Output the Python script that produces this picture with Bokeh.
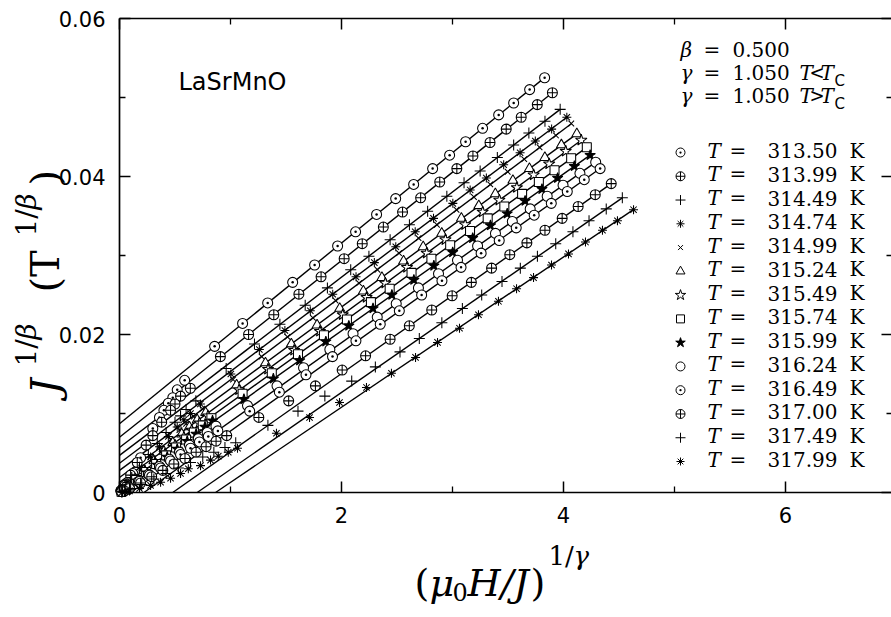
import math
from bokeh.plotting import figure
from bokeh.models import Range1d, FixedTicker, LinearAxis, Label
from bokeh.embed import file_html
from bokeh.resources import INLINE

# ---------------------------------------------------------------- data
temperatures = ["313.50", "313.99", "314.49", "314.74", "314.99", "315.24", "315.49",
                "315.74", "315.99", "316.24", "316.49", "317.00", "317.49", "317.99"]

x_313_50 = [3.830, 3.695, 3.551, 3.416, 3.271, 3.118, 2.974, 2.821, 2.650, 2.488, 2.316, 2.127, 1.965, 1.758, 1.560, 1.335, 1.109, 0.857, 0.587, 0.52, 0.48, 0.44, 0.40, 0.36, 0.30, 0.19, 0.12, 0.06, 0.03, 0.015]
y_313_50 = [0.0525, 0.0510, 0.0493, 0.0478, 0.0461, 0.0444, 0.0427, 0.0410, 0.0390, 0.0372, 0.0352, 0.0330, 0.0312, 0.0288, 0.0266, 0.0240, 0.0214, 0.0185, 0.0142, 0.0130, 0.0120, 0.0113, 0.0104, 0.0095, 0.0081, 0.0044, 0.0024, 0.0010, 0.0004, 0.0002]

x_313_99 = [3.900, 3.764, 3.619, 3.484, 3.338, 3.184, 3.039, 2.885, 2.713, 2.550, 2.377, 2.187, 2.024, 1.816, 1.616, 1.390, 1.163, 0.909, 0.638, 0.55, 0.50, 0.46, 0.38, 0.30, 0.24, 0.16, 0.10, 0.05, 0.025, 0.012]
y_313_99 = [0.0506, 0.0491, 0.0475, 0.0460, 0.0443, 0.0426, 0.0410, 0.0393, 0.0373, 0.0355, 0.0336, 0.0315, 0.0296, 0.0273, 0.0251, 0.0225, 0.0200, 0.0172, 0.0132, 0.0122, 0.0112, 0.0104, 0.0089, 0.0072, 0.0060, 0.0038, 0.0022, 0.0009, 0.0004, 0.0002]

x_314_49 = [3.970, 3.833, 3.688, 3.551, 3.404, 3.249, 3.104, 2.949, 2.776, 2.612, 2.438, 2.247, 2.083, 1.873, 1.673, 1.445, 1.216, 0.961, 0.688, 0.60, 0.55, 0.50, 0.42, 0.34, 0.26, 0.18, 0.11, 0.05, 0.025, 0.012]
y_314_49 = [0.0485, 0.0470, 0.0455, 0.0440, 0.0424, 0.0407, 0.0392, 0.0375, 0.0356, 0.0339, 0.0320, 0.0299, 0.0282, 0.0259, 0.0237, 0.0213, 0.0188, 0.0157, 0.0116, 0.0105, 0.0097, 0.0089, 0.0076, 0.0062, 0.0048, 0.0032, 0.0019, 0.0008, 0.0004, 0.0002]

x_314_74 = [4.030, 3.893, 3.746, 3.609, 3.461, 3.305, 3.159, 3.003, 2.829, 2.664, 2.489, 2.296, 2.131, 1.921, 1.719, 1.490, 1.260, 1.003, 0.729, 0.64, 0.58, 0.52, 0.44, 0.36, 0.28, 0.20, 0.12, 0.06, 0.03, 0.015]
y_314_74 = [0.0475, 0.0460, 0.0445, 0.0430, 0.0415, 0.0398, 0.0383, 0.0366, 0.0347, 0.0330, 0.0311, 0.0291, 0.0273, 0.0251, 0.0230, 0.0205, 0.0181, 0.0150, 0.0112, 0.0100, 0.0092, 0.0083, 0.0071, 0.0058, 0.0045, 0.0031, 0.0018, 0.0008, 0.0004, 0.0002]

x_314_99 = [4.070, 3.932, 3.784, 3.646, 3.497, 3.340, 3.193, 3.036, 2.860, 2.694, 2.518, 2.324, 2.158, 1.946, 1.743, 1.513, 1.281, 1.023, 0.746, 0.67, 0.60, 0.54, 0.46, 0.38, 0.30, 0.21, 0.13, 0.06, 0.03, 0.015]
y_314_99 = [0.0467, 0.0452, 0.0437, 0.0422, 0.0406, 0.0390, 0.0374, 0.0358, 0.0339, 0.0322, 0.0303, 0.0282, 0.0265, 0.0243, 0.0221, 0.0197, 0.0172, 0.0143, 0.0106, 0.0096, 0.0087, 0.0079, 0.0067, 0.0055, 0.0043, 0.0030, 0.0018, 0.0008, 0.0004, 0.0002]

x_315_24 = [4.120, 3.981, 3.832, 3.693, 3.544, 3.386, 3.237, 3.080, 2.903, 2.736, 2.559, 2.364, 2.197, 1.984, 1.780, 1.548, 1.315, 1.055, 0.776, 0.70, 0.63, 0.56, 0.48, 0.40, 0.31, 0.22, 0.14, 0.07, 0.035, 0.018]
y_315_24 = [0.0454, 0.0440, 0.0424, 0.0410, 0.0395, 0.0378, 0.0363, 0.0347, 0.0328, 0.0311, 0.0293, 0.0272, 0.0255, 0.0233, 0.0212, 0.0188, 0.0164, 0.0136, 0.0101, 0.0092, 0.0083, 0.0074, 0.0063, 0.0052, 0.0040, 0.0028, 0.0017, 0.0008, 0.0004, 0.0002]

x_315_49 = [4.160, 4.020, 3.871, 3.731, 3.580, 3.422, 3.272, 3.114, 2.936, 2.768, 2.590, 2.394, 2.226, 2.011, 1.806, 1.573, 1.338, 1.077, 0.797, 0.72, 0.65, 0.58, 0.50, 0.41, 0.32, 0.23, 0.15, 0.07, 0.035, 0.018]
y_315_49 = [0.0446, 0.0432, 0.0416, 0.0402, 0.0386, 0.0370, 0.0355, 0.0339, 0.0320, 0.0303, 0.0285, 0.0265, 0.0247, 0.0225, 0.0204, 0.0180, 0.0156, 0.0130, 0.0097, 0.0088, 0.0079, 0.0070, 0.0060, 0.0049, 0.0038, 0.0027, 0.0016, 0.0007, 0.0003, 0.0001]

x_315_74 = [4.210, 4.069, 3.919, 3.778, 3.627, 3.467, 3.317, 3.158, 2.979, 2.810, 2.631, 2.434, 2.265, 2.049, 1.842, 1.608, 1.372, 1.109, 0.828, 0.75, 0.67, 0.60, 0.51, 0.42, 0.33, 0.24, 0.15, 0.07, 0.035, 0.018]
y_315_74 = [0.0437, 0.0423, 0.0408, 0.0393, 0.0378, 0.0362, 0.0347, 0.0331, 0.0313, 0.0296, 0.0278, 0.0258, 0.0241, 0.0219, 0.0199, 0.0175, 0.0151, 0.0125, 0.0094, 0.0085, 0.0076, 0.0067, 0.0057, 0.0047, 0.0036, 0.0026, 0.0016, 0.0007, 0.0003, 0.0001]

x_315_99 = [4.240, 4.098, 3.947, 3.806, 3.654, 3.493, 3.342, 3.182, 3.002, 2.832, 2.652, 2.454, 2.284, 2.066, 1.859, 1.623, 1.386, 1.121, 0.838, 0.77, 0.69, 0.61, 0.52, 0.43, 0.34, 0.25, 0.16, 0.08, 0.04, 0.02]
y_315_99 = [0.0427, 0.0413, 0.0398, 0.0384, 0.0369, 0.0353, 0.0338, 0.0322, 0.0304, 0.0287, 0.0269, 0.0250, 0.0233, 0.0211, 0.0191, 0.0167, 0.0144, 0.0118, 0.0091, 0.0083, 0.0074, 0.0065, 0.0055, 0.0045, 0.0035, 0.0025, 0.0015, 0.0007, 0.0003, 0.0001]

x_316_24 = [4.290, 4.148, 3.996, 3.853, 3.700, 3.539, 3.387, 3.226, 3.045, 2.874, 2.693, 2.493, 2.322, 2.104, 1.895, 1.658, 1.419, 1.153, 0.869, 0.79, 0.71, 0.63, 0.54, 0.45, 0.36, 0.26, 0.17, 0.08, 0.04, 0.02]
y_316_24 = [0.0418, 0.0404, 0.0389, 0.0375, 0.0359, 0.0343, 0.0328, 0.0312, 0.0294, 0.0277, 0.0259, 0.0239, 0.0222, 0.0201, 0.0181, 0.0158, 0.0135, 0.0110, 0.0084, 0.0076, 0.0068, 0.0060, 0.0051, 0.0042, 0.0033, 0.0023, 0.0014, 0.0006, 0.0003, 0.0001]

x_316_49 = [4.330, 4.187, 4.034, 3.890, 3.736, 3.574, 3.421, 3.258, 3.077, 2.905, 2.722, 2.521, 2.349, 2.130, 1.919, 1.680, 1.440, 1.173, 0.886, 0.80, 0.72, 0.64, 0.55, 0.46, 0.37, 0.27, 0.18, 0.09, 0.045, 0.02]
y_316_49 = [0.0410, 0.0396, 0.0381, 0.0366, 0.0351, 0.0335, 0.0319, 0.0303, 0.0285, 0.0268, 0.0250, 0.0230, 0.0213, 0.0192, 0.0172, 0.0149, 0.0127, 0.0103, 0.0078, 0.0071, 0.0064, 0.0056, 0.0048, 0.0040, 0.0031, 0.0022, 0.0014, 0.0006, 0.0003, 0.0001]

x_317_00 = [4.430, 4.286, 4.132, 3.988, 3.833, 3.670, 3.516, 3.352, 3.170, 2.997, 2.813, 2.611, 2.438, 2.217, 2.006, 1.765, 1.524, 1.255, 0.966, 0.87, 0.78, 0.69, 0.59, 0.49, 0.39, 0.29, 0.19, 0.09, 0.045, 0.02]
y_317_00 = [0.0391, 0.0377, 0.0362, 0.0347, 0.0332, 0.0316, 0.0301, 0.0284, 0.0266, 0.0249, 0.0231, 0.0211, 0.0194, 0.0173, 0.0155, 0.0135, 0.0116, 0.0095, 0.0072, 0.0065, 0.0058, 0.0051, 0.0043, 0.0036, 0.0028, 0.0020, 0.0012, 0.0005, 0.0002, 0.0001]

x_317_49 = [4.530, 4.385, 4.230, 4.085, 3.930, 3.765, 3.611, 3.446, 3.263, 3.089, 2.904, 2.701, 2.527, 2.305, 2.092, 1.850, 1.608, 1.337, 1.047, 0.95, 0.85, 0.75, 0.64, 0.53, 0.42, 0.31, 0.20, 0.10, 0.05, 0.025]
y_317_49 = [0.0373, 0.0359, 0.0344, 0.0330, 0.0315, 0.0299, 0.0284, 0.0267, 0.0250, 0.0233, 0.0215, 0.0195, 0.0178, 0.0159, 0.0141, 0.0122, 0.0103, 0.0085, 0.0063, 0.0057, 0.0051, 0.0045, 0.0038, 0.0031, 0.0024, 0.0017, 0.0010, 0.0004, 0.0002, 0.0001]

x_317_99 = [4.631, 4.486, 4.351, 4.198, 4.045, 3.892, 3.730, 3.577, 3.414, 3.234, 3.063, 2.865, 2.667, 2.450, 2.225, 1.982, 1.712, 1.414, 1.063, 0.98, 0.89, 0.82, 0.73, 0.62, 0.55, 0.46, 0.37, 0.28, 0.18, 0.09, 0.05, 0.025]
y_317_99 = [0.0358, 0.0344, 0.0332, 0.0317, 0.0302, 0.0288, 0.0272, 0.0258, 0.0242, 0.0225, 0.0208, 0.0190, 0.0171, 0.0151, 0.0133, 0.0114, 0.0095, 0.0075, 0.0056, 0.0051, 0.0046, 0.0041, 0.0034, 0.0030, 0.0024, 0.0018, 0.0013, 0.0009, 0.0005, 0.0002, 0.0001, 0.00005]

# straight-line fits to the high-field part of each isotherm
fit_intercept = [0.0087, 0.0070, 0.0057, 0.0047, 0.0037, 0.0028, 0.0019, 0.0013, 0.0006,
                 -0.0010, -0.0022, -0.00475, -0.00682, -0.00823]
fit_slope = [0.01144, 0.01118, 0.01078, 0.01062, 0.01056, 0.01034, 0.01026, 0.01007, 0.00993,
             0.00998, 0.00998, 0.00990, 0.00974, 0.00951]
fit_xmax = [3.83, 3.90, 3.97, 4.03, 4.07, 4.12, 4.16, 4.21, 4.24, 4.29, 4.33, 4.43, 4.53, 4.63]

x_ticks = [0, 2, 4, 6]
x_minor = [1, 3, 5]
y_ticks = [0, 0.02, 0.04, 0.06]
y_minor = [0.01, 0.03, 0.05]

series_x = [x_313_50, x_313_99, x_314_49, x_314_74, x_314_99, x_315_24, x_315_49,
            x_315_74, x_315_99, x_316_24, x_316_49, x_317_00, x_317_49, x_317_99]
series_y = [y_313_50, y_313_99, y_314_49, y_314_74, y_314_99, y_315_24, y_315_49,
            y_315_74, y_315_99, y_316_24, y_316_49, y_317_00, y_317_49, y_317_99]

# marker style per isotherm: (marker, size, fill)
styles = [("circle_dot", 10, "white"), ("circle_cross", 10, "white"), ("cross", 11, None),
          ("asterisk", 9, None), ("x", 8, None), ("triangle", 10, "white"),
          ("star", 12, "white"), ("square", 9, "white"), ("star", 11, "black"),
          ("circle", 10, "white"), ("circle_dot", 10, "white"), ("circle_cross", 10, "white"),
          ("cross", 11, None), ("asterisk", 9, None)]

# ---------------------------------------------------------------- layout
# The frame fills the whole canvas; the axes are pinned at the data
# edges (fixed_location), so every title can sit inside the frame.
W, H = 891, 617
PX_PER_X = 111.0          # pixels per x unit
PX_PER_Y = 7900.0         # pixels per y unit
ORIG_PX, ORIG_PY = 119, 492
Y_END = 0.06


def px_x(px):
    return (px - ORIG_PX) / PX_PER_X


def px_y(py):
    return (ORIG_PY - py) / PX_PER_Y


p = figure(width=W, height=H, output_backend="svg", toolbar_location=None,
           x_range=Range1d(px_x(0), px_x(W)), y_range=Range1d(px_y(H), px_y(0)),
           min_border=0, min_border_left=0, min_border_right=0,
           min_border_top=0, min_border_bottom=0)
p.xgrid.visible = False
p.ygrid.visible = False
p.outline_line_color = None
p.background_fill_color = "white"
p.border_fill_color = "white"

TICK_FONT = "DejaVu Sans"


def style_axis(ax, ticks, minor, location, bounds, show_labels):
    ax.ticker = FixedTicker(ticks=ticks, minor_ticks=minor)
    ax.fixed_location = location
    ax.bounds = bounds
    ax.axis_line_color = "black"
    ax.axis_line_width = 1.7
    ax.major_tick_in = 11
    ax.major_tick_out = 0
    ax.minor_tick_in = 6
    ax.minor_tick_out = 0
    ax.major_tick_line_width = 1.5
    ax.minor_tick_line_width = 1.3
    ax.major_tick_line_color = "black"
    ax.minor_tick_line_color = "black"
    if show_labels:
        ax.major_label_text_font = TICK_FONT
        ax.major_label_text_font_size = "21px"
        ax.major_label_text_color = "black"
        ax.major_label_standoff = 14
        ax.major_label_overrides = {0: "0"}
    else:
        ax.major_label_text_color = None
        ax.major_label_standoff = 0


X_EDGE = px_x(W + 1)
style_axis(p.xaxis[0], x_ticks, x_minor, 0.0, (0.0, X_EDGE), True)
style_axis(p.yaxis[0], y_ticks, y_minor, 0.0, (0.0, Y_END), True)
top_axis = LinearAxis()
right_axis = LinearAxis()
style_axis(top_axis, x_ticks, x_minor, Y_END, (0.0, X_EDGE), False)
style_axis(right_axis, y_ticks, y_minor, X_EDGE, (0.0, Y_END), False)
p.add_layout(top_axis, "above")
p.add_layout(right_axis, "right")

# ---------------------------------------------------------------- fit lines
for b, m, xm in zip(fit_intercept, fit_slope, fit_xmax):
    xs = max(0.0, -b / m)
    p.line([xs, xm], [b + m * xs, b + m * xm], line_color="black", line_width=1.4)

# ---------------------------------------------------------------- isotherm points
for xs, ys, (mk, sz, fill) in zip(series_x, series_y, styles):
    p.scatter(xs, ys, marker=mk, size=sz, line_color="black", line_width=1.05,
              fill_color=fill if fill else "white", fill_alpha=1.0 if fill else 0.0)


# ---------------------------------------------------------------- text helpers
def label(px, py, text, size, font="DejaVu Serif", style="normal", align="left",
          baseline="middle", angle=0.0):
    p.add_layout(Label(x=px_x(px), y=px_y(py), text=text, text_font=font,
                       text_font_size=f"{size}px", text_font_style=style,
                       text_align=align, text_baseline=baseline, angle=angle,
                       text_color="black"))


# sample name
label(178, 81, "LaSrMnO", 24, font="DejaVu Sans")

# exponents block
label(680, 49, "\u03b2", 20, style="italic")
label(703, 49, "=", 20)
label(732, 49, "0.500", 20)
for row_y, sign in ((72, "<"), (95, ">")):
    label(680, row_y, "\u03b3", 20, style="italic")
    label(703, row_y, "=", 20)
    label(732, row_y, "1.050", 20)
    label(799, row_y, "T", 20, style="italic")
    label(809, row_y, sign, 18)
    label(820, row_y, "T", 20, style="italic")
    label(834, row_y + 8, "C", 15, font="DejaVu Sans")

# temperature legend
LEG_X, LEG_Y0, LEG_DY = 680, 150, 23.77
for i, (t, (mk, sz, fill)) in enumerate(zip(temperatures, styles)):
    ry = LEG_Y0 + LEG_DY * i
    p.scatter([px_x(LEG_X)], [px_y(ry + 2)], marker=mk, size=sz - 1, line_color="black",
              line_width=1.0, fill_color=fill if fill else "white",
              fill_alpha=1.0 if fill else 0.0)
    label(707, ry, "T", 20, style="italic")
    label(729, ry, "=", 20)
    label(767, ry, t, 20)
    label(849, ry, "K", 20)

# x-axis title: (mu0 H / J)^(1/gamma)
XB = 582
label(414, XB, "(", 38, baseline="alphabetic")
label(429, XB, "\u03bc", 38, style="italic", baseline="alphabetic")
label(452, XB + 9, "0", 24, baseline="alphabetic")
label(467, XB, "H/J", 38, style="italic", baseline="alphabetic")
label(530, XB, ")", 38, baseline="alphabetic")
label(548, XB - 27, "1/", 26, baseline="alphabetic")
label(573, XB - 27, "\u03b3", 26, style="italic", baseline="alphabetic")

# y-axis title: J^(1/beta) (T^(1/beta)), rotated to read upwards
YB = 44
up = math.pi / 2
label(YB, 394, "J", 40, style="italic", baseline="alphabetic", angle=up)
label(YB - 18, 366, "1/", 28, baseline="alphabetic", angle=up)
label(YB - 18, 339, "\u03b2", 28, style="italic", baseline="alphabetic", angle=up)
label(YB, 292, "(T", 40, baseline="alphabetic", angle=up)
label(YB - 18, 236, "1/", 28, baseline="alphabetic", angle=up)
label(YB - 18, 209, "\u03b2", 28, style="italic", baseline="alphabetic", angle=up)
label(YB, 185, ")", 40, baseline="alphabetic", angle=up)

open("out.html", "w").write(file_html(p, INLINE))
